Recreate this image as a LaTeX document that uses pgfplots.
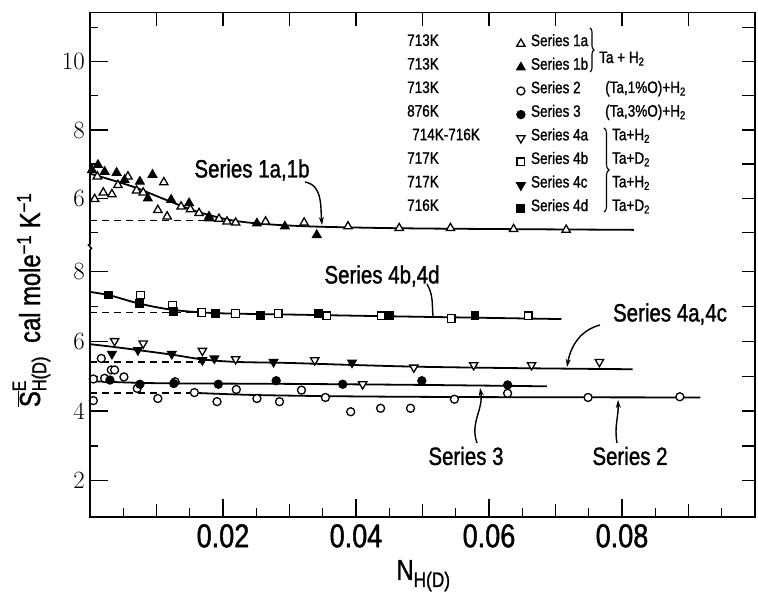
\documentclass[border=0pt]{standalone}
\usepackage{pgfplots}
\pgfplotsset{compat=1.18}
\usepackage{fontspec}
\setmainfont{Liberation Sans}[FakeStretch=0.82, FakeBold=1.2]
\usetikzlibrary{arrows.meta,decorations.pathreplacing}

\newcommand{\tickfont}{\fontsize{33}{33}\selectfont}
\newcommand{\legfont}{\fontsize{16.5}{18}\selectfont}
\newcommand{\serfont}{\fontsize{25}{28}\selectfont}
\newcommand{\labfont}{\fontsize{29}{30}\selectfont}

\pgfplotsset{
  brkaxis/.style={scale only axis, width=665pt, xmin=0, xmax=0.1, clip=false,
    tick align=inside, axis line style={line width=1.6pt},
    tick style={black, line width=1.4pt},
    major tick length=18pt, minor tick length=8.5pt,
    tick label style={font=\tickfont},
    xticklabel style={inner sep=0pt, yshift=-7pt},
    yticklabel style={inner sep=0pt, xshift=-5pt},
    scaled x ticks=false},
  fitline/.style={black, line width=1.8pt, smooth, no markers, forget plot},
  dashbase/.style={black, line width=1.5pt, dash pattern=on 7pt off 5pt, no markers, forget plot},
  sOpenTri/.style={black, only marks, mark=triangle*, mark size=4.8pt, mark options={solid, line width=1.3pt, fill=white}},
  sFullTri/.style={black, only marks, mark=triangle*, mark size=4.8pt, mark options={solid, line width=1.3pt, fill=black}},
  sOpenCirc/.style={black, only marks, mark=*, mark size=4pt, mark options={solid, line width=1.3pt, fill=white}},
  sFullCirc/.style={black, only marks, mark=*, mark size=4pt, mark options={solid, line width=1.3pt, fill=black}},
  sOpenDown/.style={black, only marks, mark=triangle*, mark size=4.8pt, mark options={solid, line width=1.3pt, fill=white, rotate=180}},
  sFullDown/.style={black, only marks, mark=triangle*, mark size=4.8pt, mark options={solid, line width=1.3pt, fill=black, rotate=180}},
  sOpenSq/.style={black, only marks, mark=square*, mark size=3.8pt, mark options={solid, line width=1.3pt, fill=white}},
  sFullSq/.style={black, only marks, mark=square*, mark size=3.8pt, mark options={solid, line width=1.3pt, fill=black}},
}

\begin{document}
\begin{tikzpicture}
\useasboundingbox (0pt,0pt) rectangle (758pt,593pt);

% upper part: series 1a, 1b
\begin{axis}[brkaxis, at={(90pt,345pt)}, anchor=south west, height=235.3pt,
  ymin=4.55, ymax=11.43, xtick=\empty, ytick pos=left,
  ytick={6,8,10}, minor ytick={5,7,9,11},
  legend cell align=left,
  legend image code/.code={\draw[#1] plot coordinates {(0pt,0pt)};},
  legend style={at={(0.6414,0.9184)}, anchor=north west, draw=none, fill=none,
    inner sep=0pt, row sep=0pt, column sep=6pt, font=\legfont,
    nodes={inner sep=0pt, text height=14pt, text depth=9.57pt}}]
\addplot[fitline] coordinates {(0,6.72) (0.0015,6.64) (0.0065,6.34) (0.0114,5.96) (0.016,5.62) (0.0213,5.36) (0.027,5.24) (0.035,5.17) (0.05,5.12) (0.0818,5.08)};
\addplot[dashbase] coordinates {(0,5.36) (0.02,5.36)};
\addplot[sOpenTri] coordinates {(0.0007,5.98) (0.0011,6.64) (0.0020,6.17) (0.0033,6.12) (0.0042,6.39)
  (0.0057,6.64) (0.0070,6.23) (0.0080,6.17) (0.0111,6.47) (0.0102,5.66) (0.0116,5.47) (0.0137,5.76)
  (0.0151,5.68) (0.0164,5.57) (0.0179,5.47) (0.0194,5.40) (0.0206,5.32) (0.0219,5.29) (0.0264,5.32)
  (0.0322,5.29) (0.0388,5.18) (0.0465,5.13) (0.0542,5.13) (0.0637,5.10) (0.0716,5.08)};
\addlegendentry{Series 1a}
\addplot[sFullTri] coordinates {(0.0003,6.83) (0.0012,6.98) (0.0022,6.78) (0.0040,6.75) (0.0052,6.54)
  (0.0075,6.49) (0.0094,6.69) (0.0087,6.00) (0.0122,5.96) (0.0149,5.86) (0.0179,5.42) (0.0251,5.27)
  (0.0293,5.18) (0.0341,4.93)};
\addlegendentry{Series 1b}
\addlegendimage{sOpenCirc}
\addlegendentry{Series 2}
\addlegendimage{sFullCirc}
\addlegendentry{Series 3}
\addlegendimage{sOpenDown}
\addlegendentry{Series 4a}
\addlegendimage{sOpenSq}
\addlegendentry{Series 4b}
\addlegendimage{sFullDown}
\addlegendentry{Series 4c}
\addlegendimage{sFullSq}
\addlegendentry{Series 4d}
\end{axis}
% upper frame ticks: top and right
\begin{axis}[brkaxis, at={(90pt,345pt)}, anchor=south west, height=235.3pt,
  ymin=4.55, ymax=11.43, major tick length=13pt, xtick pos=right, ytick pos=right,
  xtick={0.01,0.02,0.03,0.04,0.05,0.06,0.07,0.08,0.09}, ytick={5,6,7,8,9,10,11},
  xticklabels={}, yticklabels={}]
\end{axis}

% lower part: series 2, 3, 4a-4d
\begin{axis}[brkaxis, at={(90pt,76pt)}, anchor=south west, height=269pt,
  ymin=0.96, ymax=8.68, xtick pos=left, ytick pos=left,
  xtick={0.02,0.04,0.06,0.08}, xticklabels={0.02,0.04,0.06,0.08},
  minor xtick={0.005,0.015,0.025,0.035,0.045,0.055,0.065,0.075,0.085,0.095},
  ytick={2,4,6,8}, minor ytick={3,5,7}]
\addplot[fitline] coordinates {(0,7.42) (0.003,7.32) (0.0075,7.08) (0.0126,6.90) (0.019,6.81) (0.03,6.77) (0.045,6.72) (0.058,6.68) (0.0709,6.64)};
\addplot[dashbase] coordinates {(0,6.83) (0.016,6.83)};
\addplot[fitline] coordinates {(0,5.92) (0.004,5.83) (0.0072,5.75) (0.0123,5.62) (0.017,5.48) (0.022,5.41) (0.03,5.38) (0.04,5.32) (0.05,5.27) (0.065,5.23) (0.0816,5.20)};
\addplot[dashbase] coordinates {(0,5.41) (0.018,5.41)};
\addplot[fitline] coordinates {(0,4.86) (0.01,4.80) (0.03,4.78) (0.05,4.75) (0.0687,4.71)};
\addplot[fitline] coordinates {(0.016,4.52) (0.025,4.46) (0.04,4.42) (0.06,4.40) (0.0918,4.39)};
\addplot[dashbase] coordinates {(0,4.52) (0.016,4.52)};
\addplot[sOpenCirc] coordinates {(0.0005,4.30) (0.0005,4.92) (0.0017,5.51) (0.0022,4.94) (0.0032,5.18)
  (0.0037,5.18) (0.0051,4.98) (0.0071,4.65) (0.0102,4.36) (0.0128,4.84) (0.0157,4.53) (0.0191,4.27)
  (0.0220,4.62) (0.0251,4.36) (0.0285,4.27) (0.0318,4.60) (0.0354,4.39) (0.0392,3.98) (0.0437,4.08)
  (0.0482,4.08) (0.0548,4.34) (0.0628,4.51) (0.0749,4.39) (0.0887,4.41)};
\addplot[sFullCirc] coordinates {(0.0030,4.89) (0.0075,4.77) (0.0126,4.79) (0.0193,4.77) (0.0280,4.87)
  (0.0380,4.77) (0.0499,4.87) (0.0628,4.75)};
\addplot[sOpenDown] coordinates {(0.0037,6.01) (0.0080,5.94) (0.0169,5.73) (0.0219,5.49) (0.0338,5.46)
  (0.0410,4.77) (0.0487,5.25) (0.0577,5.32) (0.0664,5.32) (0.0766,5.41)};
\addplot[sFullDown] coordinates {(0.0033,5.64) (0.0072,5.75) (0.0123,5.64) (0.0169,5.46) (0.0187,5.51)
  (0.0276,5.41) (0.0394,5.39)};
\addplot[sOpenSq] coordinates {(0.0076,7.33) (0.0124,7.04) (0.0168,6.83) (0.0219,6.80) (0.0283,6.80)
  (0.0356,6.73) (0.0438,6.73) (0.0543,6.66) (0.0659,6.73)};
\addplot[sFullSq] coordinates {(0.0028,7.33) (0.0075,7.09) (0.0126,6.85) (0.0189,6.80) (0.0256,6.75)
  (0.0344,6.80) (0.0450,6.75) (0.0579,6.73)};
\end{axis}
% lower frame ticks: medium bottom ticks and right
\begin{axis}[brkaxis, at={(90pt,76pt)}, anchor=south west, height=269pt,
  ymin=0.96, ymax=8.68, major tick length=13pt, xtick pos=left, ytick pos=right,
  xtick={0.01,0.03,0.05,0.07,0.09}, ytick={2,3,4,5,6,7,8},
  xticklabels={}, yticklabels={}]
\end{axis}

% open the frame at the axis break
\fill[white] (91pt,342.5pt) rectangle (754pt,347.5pt);
\fill[white] (86pt,340pt) rectangle (94pt,351pt);
\draw[line width=1.6pt] (90pt,351pt) -- (90pt,349pt) .. controls (85pt,348pt) and (95pt,345pt) .. (90pt,343pt) -- (90pt,340pt);

% axis titles
\node[rotate=90, anchor=base, font=\labfont] at (40pt,293pt)
  {$\overline{\hbox{S}}^{\hbox{\fontsize{19}{19}\selectfont E}}_{\hbox{\fontsize{20}{20}\selectfont H(D)}}$\ \ cal mole\textsuperscript{−1} K\textsuperscript{−1}};
\node[anchor=base west, font=\labfont] at (393pt,13pt) {N\raisebox{-7pt}{\fontsize{21}{21}\selectfont H(D)}};

% legend extras
\begin{scope}[every node/.style={anchor=base west, font=\legfont, inner sep=0pt}]
\node at (407pt,547.1pt) {713K};
\node at (407pt,523.5pt) {713K};
\node at (407pt,500.0pt) {713K};
\node at (407pt,476.4pt) {876K};
\node at (412pt,452.8pt) {714K-716K};
\node at (407pt,429.3pt) {717K};
\node at (407pt,405.7pt) {717K};
\node at (407pt,382.1pt) {716K};
\node at (599pt,530pt) {Ta + H\textsubscript{2}};
\node at (605pt,500.0pt) {(Ta,1\%O)+H\textsubscript{2}};
\node at (605pt,476.4pt) {(Ta,3\%O)+H\textsubscript{2}};
\node at (612pt,452.8pt) {Ta+H\textsubscript{2}};
\node at (612pt,429.3pt) {Ta+D\textsubscript{2}};
\node at (612pt,405.7pt) {Ta+H\textsubscript{2}};
\node at (612pt,382.1pt) {Ta+D\textsubscript{2}};
\end{scope}
\draw[line width=1.1pt, decorate, decoration={brace, amplitude=4pt}] (590pt,565pt) -- (590pt,521pt);
\draw[line width=1.1pt, decorate, decoration={brace, amplitude=5pt}] (604pt,465pt) -- (604pt,381pt);

% series annotations
\node[font=\serfont] at (252pt,423pt) {Series 1a,1b};
\node[font=\serfont] at (382pt,317pt) {Series 4b,4d};
\node[font=\serfont] at (670pt,279pt) {Series 4a,4c};
\node[font=\serfont] at (466pt,137pt) {Series 3};
\node[font=\serfont] at (630pt,137pt) {Series 2};
\draw[line width=1.4pt, -{Stealth[length=8pt,width=5pt]}] (305pt,411pt) to[out=-10,in=95] (322pt,368pt);
\draw[line width=1.4pt] (427pt,309pt) to[out=-60,in=95] (433pt,277pt);
\draw[line width=1.4pt, -{Stealth[length=8pt,width=5pt]}] (600pt,268pt) to[out=195,in=80] (567pt,226pt);
\draw[line width=1.4pt, -{Stealth[length=8pt,width=5pt]}] (477pt,150pt) to[out=110,in=-80] (480pt,205pt);
\draw[line width=1.4pt, -{Stealth[length=8pt,width=5pt]}] (617pt,150pt) to[out=100,in=-88] (618pt,193pt);
\end{tikzpicture}
\end{document}
